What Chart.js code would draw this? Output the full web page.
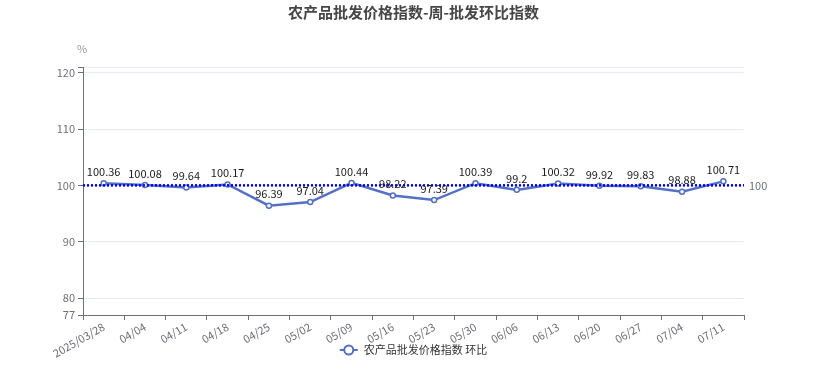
<!DOCTYPE html>
<html>
<head>
<meta charset="utf-8">
<script src="https://cdn.jsdelivr.net/npm/chart.js@4"></script>
<style>
  html, body { margin: 0; padding: 0; background: #fff; }
  #wrap { width: 827px; height: 373px; }
</style>
</head>
<body>
<div id="wrap"><canvas id="chart" width="827" height="373"></canvas></div>
<script>
const labels = ['2025/03/28', '04/04', '04/11', '04/18', '04/25', '05/02', '05/09', '05/16',
  '05/23', '05/30', '06/06', '06/13', '06/20', '06/27', '07/04', '07/11'];
const values = [100.36, 100.08, 99.64, 100.17, 96.39, 97.04, 100.44, 98.22,
  97.39, 100.39, 99.2, 100.32, 99.92, 99.83, 98.88, 100.71];
const yTicks = [77, 80, 90, 100, 110, 120, 121];
const markValue = 100;
const titleText = '农产品批发价格指数-周-批发环比指数';
const seriesName = '农产品批发价格指数 环比';

const FONT = '"Noto Sans CJK SC", "Noto Sans", sans-serif';
const lineColor = '#5470c6';

// title, legend, mark line, point labels and unit drawn on top
const extras = {
  id: 'extras',
  afterDatasetsDraw(chart) {
    const ctx = chart.ctx;
    const y = chart.scales.y;
    const area = chart.chartArea;
    const py = y.getPixelForValue(markValue);
    ctx.save();

    // mark line at 100
    ctx.strokeStyle = '#0000ff';
    ctx.lineWidth = 2.5;
    ctx.setLineDash([2, 2]);
    ctx.beginPath();
    ctx.moveTo(area.left, py);
    ctx.lineTo(area.right, py);
    ctx.stroke();
    ctx.setLineDash([]);
    ctx.fillStyle = '#6e7079';
    ctx.font = '11px ' + FONT;
    ctx.textBaseline = 'middle';
    ctx.textAlign = 'left';
    ctx.fillText(String(markValue), area.right + 5, py);

    // data labels
    const meta = chart.getDatasetMeta(0);
    ctx.fillStyle = '#1a1a1a';
    ctx.textAlign = 'center';
    ctx.textBaseline = 'bottom';
    meta.data.forEach((pt, i) => {
      ctx.fillText(String(values[i]), pt.x, pt.y - 6);
    });

    // unit
    ctx.fillStyle = '#999';
    ctx.textBaseline = 'middle';
    ctx.fillText('%', area.left - 1, 49);

    // title
    ctx.fillStyle = '#464646';
    ctx.font = 'bold 15px ' + FONT;
    ctx.fillText(titleText, chart.width / 2, 12);

    // legend
    ctx.font = '11px ' + FONT;
    const tw = ctx.measureText(seriesName).width;
    const total = 18 + 6 + tw;
    const lx = chart.width / 2 - total / 2;
    const ly = 350;
    ctx.strokeStyle = lineColor;
    ctx.lineWidth = 2;
    ctx.beginPath(); ctx.moveTo(lx, ly); ctx.lineTo(lx + 18, ly); ctx.stroke();
    ctx.beginPath(); ctx.arc(lx + 9, ly, 4.5, 0, Math.PI * 2);
    ctx.fillStyle = '#fff'; ctx.fill(); ctx.stroke();
    ctx.fillStyle = '#333';
    ctx.textAlign = 'left';
    ctx.fillText(seriesName, lx + 24, ly);
    ctx.restore();
  }
};

new Chart(document.getElementById('chart'), {
  type: 'line',
  data: {
    labels: labels,
    datasets: [{
      label: seriesName,
      data: values,
      borderColor: lineColor,
      backgroundColor: '#fff',
      borderWidth: 2.5,
      pointRadius: 2.5,
      pointBorderWidth: 1.5,
      pointBorderColor: lineColor,
      pointBackgroundColor: '#fff',
      tension: 0,
      fill: false
    }]
  },
  options: {
    responsive: false,
    animation: false,
    layout: { padding: { left: 0, right: 83, top: 67, bottom: 0 } },
    scales: {
      x: {
        offset: true,
        grid: { offset: true, drawOnChartArea: false, drawTicks: true, tickLength: 5, color: '#6e7079' },
        border: { color: '#6e7079', width: 1 },
        ticks: {
          color: '#6e7079',
          font: { family: FONT, size: 11 },
          minRotation: 30,
          maxRotation: 30,
          autoSkip: false,
          padding: 0
        },
        afterFit(scale) { scale.height = 58; }
      },
      y: {
        min: 77,
        max: 121,
        afterBuildTicks(scale) { scale.ticks = yTicks.map(v => ({ value: v })); },
        grid: { color: '#e6ebf5', tickLength: 5, tickColor: '#6e7079' },
        border: { color: '#6e7079', width: 1 },
        ticks: {
          color: '#6e7079',
          font: { family: FONT, size: 11 },
          padding: 3,
          callback: (v) => (v === 121 ? '' : v)
        },
        afterFit(scale) { scale.width = 83; }
      }
    },
    plugins: {
      title: { display: false },
      legend: { display: false },
      tooltip: { enabled: false }
    }
  },
  plugins: [extras]
});
</script>
</body>
</html>
